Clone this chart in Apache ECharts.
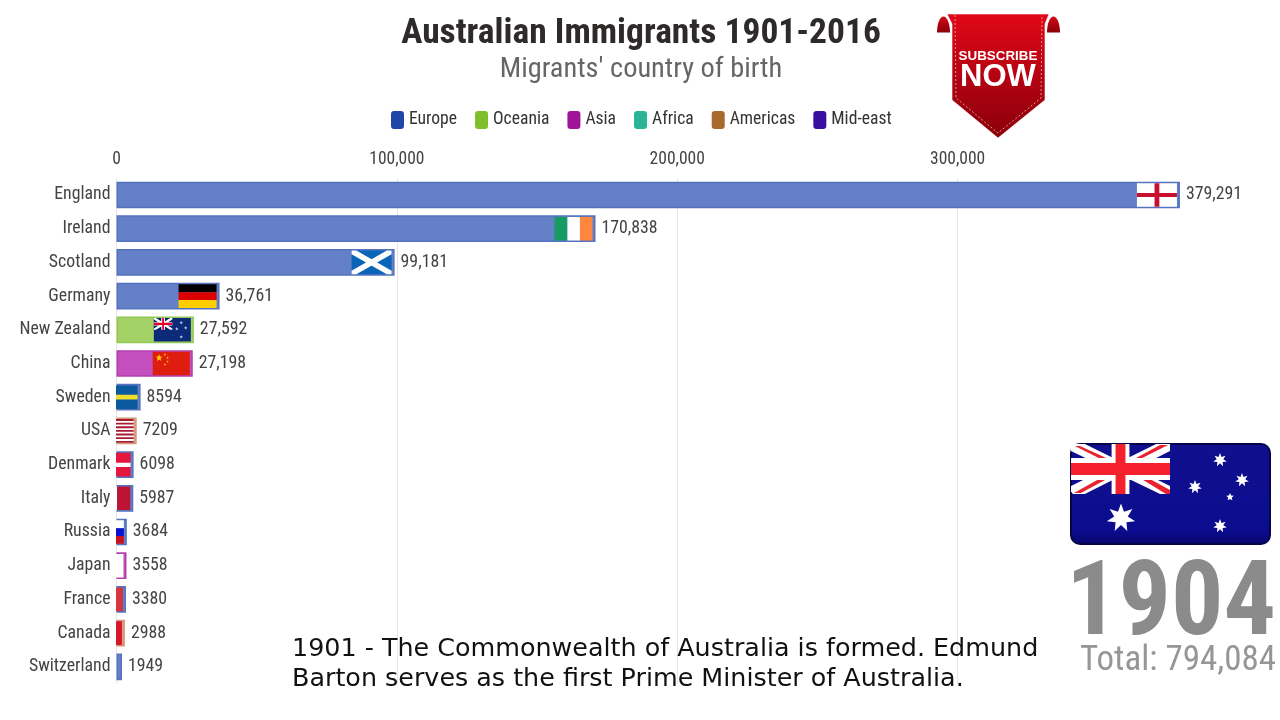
<!DOCTYPE html>
<html><head><meta charset="utf-8">
<style>html,body{margin:0;padding:0;background:#fff}#c{width:1280px;height:720px}</style>
<script src="https://cdn.jsdelivr.net/npm/echarts@6/dist/echarts.min.js"></script>
</head><body><div id="c"></div>
<script>
const categories = ['England','Ireland','Scotland','Germany','New Zealand','China','Sweden','USA','Denmark','Italy','Russia','Japan','France','Canada','Switzerland'];
const values = [379291,170838,99181,36761,27592,27198,8594,7209,6098,5987,3684,3558,3380,2988,1949];
const regionOf = ['Europe','Europe','Europe','Europe','Oceania','Asia','Europe','Americas','Europe','Europe','Europe','Asia','Europe','Americas','Europe'];
const regions = ['Europe','Oceania','Asia','Africa','Americas','Mid-east'];
const regionSolid = ['#2145a8','#7fbe2c','#a0149a','#2bb594','#a8692a','#3a0ea0'];
const regionFill = ['#6480c6','#a5d267','#c24fbb','#6fcfb6','#d99f7c','#7a5cc0'];
const regionEdge = ['#5472bf','#93c954','#b23fae','#4cc2a5','#d69874','#5a34b0'];
const year = '1904';
const total = 'Total: 794,084';
const eventNote = '1901 - The Commonwealth of Australia is formed. Edmund\nBarton serves as the first Prime Minister of Australia.';

const FONT = 'Roboto';
const STRETCH = 'condensed';
const R='r',P='p';
function nStar(cx,cy,rx,ry,n,inner,fill){
  const pts=[];
  for(let i=0;i<n*2;i++){const a=-Math.PI/2+i*Math.PI/n;const q=i%2?inner:1;pts.push([cx+rx*q*Math.cos(a),cy+ry*q*Math.sin(a)]);}
  return [P,pts,fill];
}
const unionMini = (w,h)=>[
 [R,0,0,w,h,'#012169'],
 [P,[[0,0],[w*.12,0],[w,h*.88],[w,h],[w*.88,h],[0,h*.12]],'#fff'],
 [P,[[w,0],[w,h*.12],[w*.12,h],[0,h],[0,h*.88],[w*.88,0]],'#fff'],
 [R,w*.4,0,w*.6,h,'#fff'],[R,0,h*.36,w,h*.64,'#fff'],
 [R,w*.45,0,w*.55,h,'#e4002b'],[R,0,h*.41,w,h*.59,'#e4002b']];
const flags = {
 England:[[R,0,0,1,1,'#fff'],[R,.44,0,.56,1,'#c8102e'],[R,0,.41,1,.59,'#c8102e']],
 Ireland:[[R,0,0,.34,1,'#169b62'],[R,.34,0,.67,1,'#fff'],[R,.67,0,1,1,'#ff883e']],
 Scotland:[[R,0,0,1,1,'#0a65b8'],[P,[[0,0],[.12,0],[1,.85],[1,1],[.88,1],[0,.15]],'#fff'],[P,[[1,0],[1,.15],[.12,1],[0,1],[0,.85],[.88,0]],'#fff']],
 Germany:[[R,0,0,1,.34,'#000'],[R,0,.34,1,.67,'#dd0000'],[R,0,.67,1,1,'#ffce00']],
 'New Zealand':[[R,0,0,1,1,'#0b2a78'],...unionMini(.5,.5),nStar(.74,.2,.05,.08,5,.45,'#b8c0e8'),nStar(.62,.46,.05,.08,5,.45,'#b8c0e8'),nStar(.86,.42,.05,.08,5,.45,'#b8c0e8'),nStar(.74,.8,.05,.08,5,.45,'#b8c0e8')],
 China:[[R,0,0,1,1,'#de1c10'],nStar(.17,.26,.1,.16,5,.42,'#ffcc00'),nStar(.33,.12,.035,.06,5,.42,'#ffcc00'),nStar(.4,.26,.035,.06,5,.42,'#ffcc00'),nStar(.4,.42,.035,.06,5,.42,'#ffcc00'),nStar(.33,.54,.035,.06,5,.42,'#ffcc00')],
 Sweden:[[R,0,0,1,1,'#0b5a9e'],[R,0,.4,1,.6,'#f2dc2e'],[R,.3,0,.44,1,'#f2dc2e']],
 USA:[[R,0,0,1,1,'#fff'],...[0,1,2,3,4,5,6].map(i=>[R,0,i*2/13,1,(i*2+1)/13,'#a81c33'])],
 Denmark:[[R,0,0,1,1,'#e5173f'],[R,0,.42,1,.6,'#fff'],[R,.28,0,.42,1,'#fff']],
 Italy:[[R,0,0,.34,1,'#009246'],[R,.34,0,.67,1,'#fff'],[R,.67,0,1,1,'#bd1433']],
 Russia:[[R,0,0,1,.34,'#fff'],[R,0,.34,1,.67,'#0a12d0'],[R,0,.67,1,1,'#cc1020']],
 Japan:[[R,0,0,1,1,'#fff'],[R,.4,.3,.6,.7,'#c8102e']],
 France:[[R,0,0,.34,1,'#1e3a8a'],[R,.34,0,.67,1,'#fff'],[R,.67,0,1,1,'#d4353f']],
 Canada:[[R,0,0,.25,1,'#d5172b'],[R,.25,0,.75,1,'#fff'],[R,.75,0,1,1,'#d5172b']]
};
const flagWidths = {Ireland:38,Germany:38,'New Zealand':37,China:37};

const FLAG_W = 40, FLAG_GAP = 3, FLAG_RATIO = .7;
function renderFlag(params, api){
  const name = categories[api.value(1)];
  const spec = flags[name];
  if(!spec) return null;
  const W = flagWidths[name]||FLAG_W;
  const end = api.coord([api.value(0), api.value(1)]);
  const h = api.size([0,1])[1]*FLAG_RATIO;
  const x0 = end[0]-FLAG_GAP-W, y0 = end[1]-h/2;
  const X=u=>x0+u*W, Y=v=>y0+v*h;
  return {type:'group', children: spec.map(s=> s[0]===R
    ? {type:'rect', shape:{x:X(s[1]),y:Y(s[2]),width:(s[3]-s[1])*W,height:(s[4]-s[2])*h}, style:{fill:s[5]}}
    : {type:'polygon', shape:{points:s[1].map(p=>[X(p[0]),Y(p[1])])}, style:{fill:s[2]}})};
}
const fmt = v => v>=10000 ? v.toLocaleString('en-US') : String(v);

function star(cx,cy,r,n){
  const pts=[];const ri=r*.48;
  for(let i=0;i<n*2;i++){const a=-Math.PI/2+i*Math.PI/n;const q=i%2?ri:r;pts.push([cx+q*Math.cos(a),cy+q*Math.sin(a)]);}
  return {type:'polygon',shape:{points:pts},style:{fill:'#fff'}};
}
function auFlag(){
  const L=1071,T=444,W=199,H=100,uw=99,uh=50;
  const items=[{type:'rect',shape:{x:L,y:T,width:W,height:H,r:9},style:{fill:new echarts.graphic.LinearGradient(0,0,0,1,[{offset:0,color:'#10108e'},{offset:.85,color:'#0c0c90'},{offset:1,color:'#06066a'}]),stroke:'#05054a',lineWidth:2}}];
  const a=(x,y)=>[L+x*uw,T+y*uh];
  items.push({type:'polygon',shape:{points:[a(.03,0),a(.14,0),a(1,.84),a(1,1),a(.9,1),a(0,.14),a(0,.04)]},style:{fill:'#fff'}});
  items.push({type:'polygon',shape:{points:[a(.86,0),a(1,0),a(1,.14),a(.14,1),a(.02,1),a(0,.95),a(0,.84)]},style:{fill:'#fff'}});
  items.push({type:'polygon',shape:{points:[a(.04,.04),a(.09,.04),a(.4,.32),a(.32,.32)]},style:{fill:'#e8222e'}});
  items.push({type:'polygon',shape:{points:[a(.68,.66),a(.76,.66),a(1,.92),a(1,1),a(.96,1)]},style:{fill:'#e8222e'}});
  items.push({type:'polygon',shape:{points:[a(.68,.32),a(.62,.32),a(.9,.02),a(.98,.02)]},style:{fill:'#e8222e'}});
  items.push({type:'polygon',shape:{points:[a(.32,.66),a(.4,.66),a(.1,.98),a(.03,.98)]},style:{fill:'#e8222e'}});
  items.push({type:'rect',shape:{x:L+.41*uw,y:T,width:.18*uw,height:uh},style:{fill:'#fff'}});
  items.push({type:'rect',shape:{x:L,y:T+.28*uh,width:uw,height:.44*uh},style:{fill:'#fff'}});
  items.push({type:'rect',shape:{x:L+.45*uw,y:T,width:.1*uw,height:uh},style:{fill:'#f5222d'}});
  items.push({type:'rect',shape:{x:L,y:T+.38*uh,width:uw,height:.24*uh},style:{fill:'#f5222d'}});
  items.push(star(1121,518,14.5,7),star(1220,460,7,7),star(1195,487,7,7),star(1242,480,7,7),star(1230,497,4,5),star(1220,526,7,7));
  return items;
}
function dome(cx){
  const pts=[];
  for(let i=0;i<=16;i++){const a=Math.PI+i*Math.PI/16;pts.push([cx+6.5*Math.cos(a),32.5+16*Math.sin(a)]);}
  return pts;
}
function badge(){
  const grad=new echarts.graphic.LinearGradient(0,0,0,1,[{offset:0,color:'#e00818'},{offset:.55,color:'#b00212'},{offset:1,color:'#8a0008'}]);
  const ear=new echarts.graphic.LinearGradient(0,0,0,1,[{offset:0,color:'#d00a14'},{offset:1,color:'#8a0008'}]);
  return [
   {type:'polygon',shape:{points:dome(943.5)},style:{fill:ear}},
   {type:'polygon',shape:{points:dome(1053.5)},style:{fill:ear}},
   {type:'polygon',shape:{points:[[947,14],[1049,14],[1045,24],[1045,100],[998,138],[952,100],[952,24]]},style:{fill:grad,stroke:'#fff',lineWidth:.6}},
   {type:'polyline',shape:{points:[[955,15],[956,98],[998,133],[1041,98],[1042,15]]},style:{stroke:'#f4b8b8',lineWidth:.8,lineDash:[2,2],fill:'none'}},
   {type:'text',x:998,y:56,style:{text:'SUBSCRIBE',font:'bold 13.4px "Liberation Sans"',fill:'#fff',align:'center',verticalAlign:'middle'}},
   {type:'text',x:998,y:77,style:{text:'NOW',font:'bold 31px "Liberation Sans"',fill:'#fff',align:'center',verticalAlign:'middle'}}
  ];
}

const barSeries = regions.map((r,ri)=>({
  name:r,type:'bar',stack:'all',barWidth:26.7,
  itemStyle:{color:regionFill[ri],borderColor:regionEdge[ri],borderWidth:1.5},
  label:{show:true,position:'right',distance:6,fontFamily:FONT,fontStyle:STRETCH,fontSize:17.8,color:'#444',formatter:p=>fmt(p.value)},
  data:values.map((v,i)=>regionOf[i]===r?v:null)
}));
const chart = echarts.init(document.getElementById('c'),null,{renderer:'canvas'});
chart.setOption({
  animation:false,backgroundColor:'#fff',
  title:{text:'Australian Immigrants 1901-2016',subtext:"Migrants' country of birth",left:636,top:11,textAlign:'center',itemGap:4,
    textStyle:{fontFamily:FONT,fontStyle:STRETCH,fontWeight:'bold',fontSize:35.5,color:'#2f2a2a'},
    subtextStyle:{fontFamily:FONT,fontStyle:STRETCH,fontSize:28.4,color:'#666'}},
  legend:{left:386,top:106,itemWidth:13,itemHeight:18,itemGap:18,icon:'roundRect',
    textStyle:{fontFamily:FONT,fontStyle:STRETCH,fontSize:17.6,color:'#333'},
    data:regions.map((r,i)=>({name:r,itemStyle:{color:regionSolid[i],borderWidth:0}}))},
  grid:{left:116.5,right:42,top:178.15,bottom:36.35,containLabel:false},
  xAxis:{type:'value',position:'top',min:0,max:400000,interval:100000,
    axisLine:{show:false},axisTick:{show:false},
    splitLine:{show:true,showMaxLine:false,lineStyle:{color:'#e6e6ea',width:1}},
    axisLabel:{showMaxLabel:false,margin:10,fontFamily:FONT,fontStyle:STRETCH,fontSize:17.5,color:'#444'}},
  yAxis:{type:'category',inverse:true,data:categories,
    axisLine:{show:false},axisTick:{show:false},
    axisLabel:{margin:6,fontFamily:FONT,fontStyle:STRETCH,fontSize:17.8,color:'#444'}},
  series:[...barSeries,{type:'custom',name:'flags',clip:true,z:5,silent:true,renderItem:renderFlag,
    encode:{x:0,y:1},data:values.map((v,i)=>[v,i])}],
  graphic:[...badge(),...auFlag(),
    {type:'text',x:1171,y:608,z:10,style:{text:year,font:STRETCH+' bold 104px '+FONT,fill:'#8b8b8b',align:'center',verticalAlign:'middle'}},
    {type:'text',x:1178,y:661,z:10,style:{text:total,font:STRETCH+' normal 35px '+FONT,fill:'#969696',align:'center',verticalAlign:'middle'}},
    {type:'text',x:292,y:664,z:20,style:{text:eventNote,font:'25.4px "DejaVu Sans"',lineHeight:30,fill:'#111',align:'left',verticalAlign:'middle'}}
  ]
});
</script></body></html>
